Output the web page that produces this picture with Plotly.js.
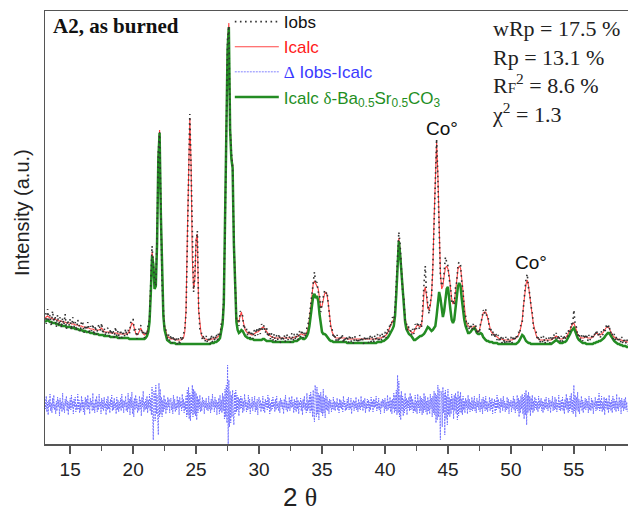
<!DOCTYPE html>
<html>
<head>
<meta charset="utf-8">
<script src="https://cdn.plot.ly/plotly-3.0.1.min.js"></script>
<style>html,body{margin:0;padding:0;background:#fff}#chart{width:628px;height:513px}</style>
</head>
<body>
<div id="chart"></div>
<script>
// 2θ grid of the profile: start and step (degrees)
const twoThetaStart = 13.0;
const twoThetaStep = 0.1;
const diffStep = 0.05;

// Observed intensity (a.u.)
const iObs = [
131,120,135,124,129,118,133,122,128,117,
129,118,127,116,126,119,130,115,124,118,
125,114,127,117,122,113,124,120,112,123,
121,111,119,114,122,110,118,113,120,109,
118,109,117,120,113,121,110,116,108,115,
116,107,115,109,114,106,117,108,113,105,
114,106,113,107,115,108,114,110,121,124,
125,112,115,105,113,117,119,110,114,106,
113,109,120,124,160,198,180,163,158,208,
292,312,238,160,135,114,114,105,110,103,
109,101,108,102,107,100,106,99,108,103,
110,115,131,208,287,330,276,188,152,168,
202,213,137,115,113,104,109,102,108,101,
107,100,109,102,108,103,110,104,112,107,
120,121,148,215,328,405,418,315,292,277,
200,154,125,126,118,133,130,128,115,118,
115,108,114,106,113,105,114,108,116,109,
117,110,120,114,119,111,116,107,112,105,
111,103,110,102,109,104,110,101,108,103,
109,102,110,104,108,101,111,103,110,104,
111,104,113,107,114,106,112,107,116,120,
128,140,154,165,172,160,162,152,150,132,
141,147,153,150,152,137,131,115,115,106,
110,103,109,102,108,104,110,101,107,103,
108,101,109,102,107,100,108,103,106,101,
109,102,107,100,108,103,106,101,109,102,
108,101,109,103,110,102,109,104,111,105,
112,106,115,111,121,118,127,122,135,158,
194,212,200,178,153,145,123,121,113,117,
116,109,115,110,120,115,122,115,120,116,
133,160,178,150,140,130,142,148,178,222,
268,305,266,228,168,158,162,172,187,182,
178,165,158,142,144,139,156,162,180,182,
179,162,153,132,129,117,121,114,120,114,
120,115,119,110,115,111,122,125,134,130,
135,126,126,114,116,108,113,106,111,104,
109,102,108,101,107,100,107,101,106,100,
107,101,108,103,109,105,112,110,121,122,
141,152,165,170,156,150,138,131,116,115,
112,104,108,101,107,102,108,100,106,102,
107,101,108,103,110,105,111,104,109,102,
108,102,109,104,111,107,115,112,121,118,
134,120,117,108,111,104,109,103,110,105,
110,103,109,104,108,105,111,108,114,108,
112,106,113,109,116,113,120,115,119,111,
113,105,110,103,108,102,107,101,107,100,
106,100,105,99];

// Calculated intensity (all phases)
const iCalc = [
126,127,128,127,126,126,125,125,125,124,
124,123,123,123,122,122,122,121,121,121,
121,120,120,120,119,119,119,118,118,118,
117,117,117,116,116,116,115,115,115,114,
114,114,114,114,115,116,114,112,112,112,
112,112,111,111,111,111,111,111,110,110,
110,110,110,110,110,110,111,113,117,121,
120,115,111,109,110,113,116,113,110,109,
110,112,116,126,154,192,184,159,162,204,
289,314,234,164,132,118,111,108,107,106,
105,105,105,105,104,104,104,104,104,105,
106,112,134,205,290,326,280,185,155,165,
205,210,134,118,110,107,106,105,105,104,
104,104,105,105,105,106,106,107,108,110,
116,124,144,219,324,399,421,319,289,280,
204,150,128,122,122,128,132,125,118,114,
112,111,110,110,109,109,110,111,112,112,
113,114,116,117,116,114,112,110,109,108,
107,107,106,106,106,106,106,106,106,106,
106,106,106,106,106,106,106,106,107,107,
107,108,109,110,110,109,109,110,112,116,
125,136,150,160,163,160,158,155,146,136,
138,144,150,152,149,140,128,118,112,109,
107,106,106,106,106,106,106,106,106,106,
105,105,105,105,105,105,105,105,105,105,
105,105,105,105,105,105,105,105,105,105,
105,105,105,105,106,106,106,106,107,107,
108,109,111,114,117,121,123,124,132,154,
188,206,194,175,156,142,126,119,116,114,
113,112,111,112,116,118,119,118,117,118,
130,152,157,148,136,134,138,150,175,225,
270,302,270,224,172,155,158,168,176,178,
175,168,155,145,140,142,152,165,175,178,
176,165,150,135,126,120,118,117,117,117,
117,118,116,113,112,114,119,127,131,132,
132,129,123,117,113,111,110,109,108,107,
106,105,105,105,104,104,104,104,104,104,
104,104,105,105,106,107,109,112,117,124,
138,150,160,164,158,148,140,128,119,113,
109,106,105,104,104,104,104,104,104,104,
104,104,104,105,106,107,108,107,106,105,
105,105,106,106,107,109,111,114,117,120,
121,118,114,110,108,107,106,106,106,107,
107,106,106,106,106,107,108,110,111,110,
109,109,110,111,113,115,117,117,116,113,
110,108,107,106,105,105,104,104,104,103,
103,103,102,102];

// Calculated intensity of the δ-Ba0.5Sr0.5CO3 phase
const iCalcDelta = [
122,123,124,123,122,122,121,121,121,120,
120,119,119,119,118,118,118,117,117,117,
117,116,116,116,115,115,115,114,114,114,
113,113,113,112,112,112,111,111,111,110,
110,110,110,109,109,109,109,108,108,108,
108,108,107,107,107,107,107,107,106,106,
106,106,106,106,106,106,106,105,105,105,
105,105,105,105,105,105,105,105,105,105,
106,108,112,122,150,188,180,155,158,200,
285,311,230,160,128,114,107,104,103,102,
101,101,101,101,100,100,100,100,100,100,
100,100,100,100,100,100,100,100,100,100,
100,100,100,100,100,100,100,100,100,100,
100,100,101,101,101,102,102,103,104,106,
112,120,140,215,320,395,417,315,285,276,
200,145,122,114,111,112,114,113,110,108,
107,106,106,105,105,105,104,104,104,104,
104,104,104,105,105,104,103,103,103,103,
103,102,102,102,102,102,102,102,102,102,
102,102,102,102,102,102,102,102,103,103,
103,104,105,106,106,105,105,106,108,111,
118,128,140,148,150,146,148,143,130,118,
112,110,110,109,107,105,104,103,103,102,
102,102,102,102,102,102,102,102,102,102,
101,101,101,101,101,101,101,101,101,101,
101,101,101,101,101,101,101,101,101,101,
101,101,101,101,102,102,102,102,103,103,
104,105,106,108,110,113,115,118,128,150,
185,203,190,172,152,138,122,115,112,110,
109,108,106,104,104,105,106,107,108,108,
109,110,112,114,117,116,114,113,114,116,
118,128,143,152,146,133,127,133,145,155,
157,148,134,124,121,124,134,148,158,161,
158,145,132,124,118,113,111,111,112,114,
115,116,114,111,110,110,111,110,107,105,
104,103,103,102,102,102,101,101,101,101,
100,100,100,100,100,100,100,100,100,100,
100,100,100,100,100,101,102,104,107,109,
108,105,103,102,101,101,100,100,100,100,
100,100,100,100,100,100,100,100,100,100,
100,100,100,101,102,103,104,103,102,101,
101,101,102,102,103,105,107,110,113,115,
116,113,109,106,104,103,102,101,101,101,
100,100,100,100,100,100,101,101,102,102,
103,103,104,105,106,108,110,111,111,109,
106,104,103,102,101,100,100,99,99,98,
98,98,97,97];

// Difference Iobs - Icalc (0.05° steps)
const iDiff = [
6,-4,9,-7,3,-10,5,-2,11,-6,2,-8,7,-3,10,-5,1,-9,4,-6,
8,-2,5,-11,7,-4,3,-7,12,-5,2,-8,6,-1,9,-6,4,-10,3,-4,
7,-5,10,-3,4,-9,6,-2,8,-7,1,-5,11,-4,5,-8,2,-6,9,-3,
5,-7,3,-10,8,-2,6,-5,10,-4,3,-9,7,-1,4,-6,12,-5,2,-8,
6,-3,9,-7,4,-5,11,-2,3,-9,7,-4,5,-6,8,-3,2,-10,6,-5,
9,-4,3,-8,6,-2,10,-6,4,-5,7,-3,2,-9,8,-5,5,-7,3,-4,
7,-6,11,-3,5,-8,4,-2,9,-6,3,-7,12,-4,6,-10,8,-3,13,-9,
4,-12,7,-5,10,-3,6,-8,2,-6,9,-4,5,-11,8,-2,14,-7,3,-5,
6,-4,9,-8,5,-3,11,-6,7,-10,18,-12,-35,14,8,-16,20,-9,10,-14,
-30,22,-12,16,-9,8,-12,5,-7,10,-4,6,-9,3,-5,8,-2,6,-8,4,
7,-5,3,-9,10,-4,6,-7,2,-5,9,-3,5,-10,8,-2,4,-6,11,-3,
6,-8,3,-5,9,-12,15,-10,18,-14,12,-16,10,-8,20,-12,16,-9,14,-11,
12,-15,9,-8,6,-4,10,-7,3,-6,8,-2,5,-9,4,-3,7,-5,2,-6,
9,-4,3,-8,6,-5,11,-2,4,-7,8,-3,5,-10,3,-4,7,-9,10,-6,
5,-8,12,-6,9,-14,16,-12,20,-18,40,-39,25,-22,14,-18,10,-12,15,-8,
-20,12,-9,15,-7,10,-5,8,-11,6,-4,9,-3,7,-8,4,-6,11,-2,5,
-7,3,-5,10,-4,6,-9,2,-3,8,-6,4,-2,9,-7,3,-5,6,-10,4,
8,-3,5,-7,2,-4,9,-6,3,-8,6,-2,4,-5,10,-3,7,-9,2,-6,
5,-4,8,-2,3,-7,6,-5,9,-3,2,-6,4,-8,7,-2,5,-4,3,-9,
6,-3,10,-5,4,-7,2,-4,8,-6,5,-3,9,-2,3,-8,6,-5,4,-7,
8,-4,5,-9,3,-2,7,-6,4,-10,6,-3,9,-5,2,-8,12,-6,5,-4,
10,-8,13,-6,9,-12,15,-10,-17,20,14,-12,18,-9,12,-15,10,-7,13,-8,
9,-11,16,-8,7,-13,10,-5,8,-6,4,-9,6,-3,5,-7,2,-4,8,-5,
4,-6,3,-2,7,-5,2,-8,6,-3,5,-4,3,-7,9,-2,4,-6,2,-5,
6,-3,8,-5,2,-4,7,-9,3,-2,5,-6,4,-3,8,-5,2,-7,6,-4,
3,-5,9,-2,4,-6,5,-3,7,-8,2,-4,6,-3,5,-7,3,-5,8,-2,
4,-7,6,-3,5,-2,9,-6,3,-4,7,-5,2,-9,4,-3,6,-2,5,-8,
7,-4,3,-6,10,-5,4,-3,8,-7,5,-9,6,-4,12,-8,10,-6,15,-10,
30,-8,24,-12,10,-15,14,-6,9,-11,6,-8,12,-4,7,-10,5,-3,8,-6,
12,-5,9,-4,6,-8,3,-6,10,-7,4,-9,11,-3,5,-8,9,-6,7,-10,
6,-8,12,-5,9,-7,4,-10,8,-6,5,-9,11,-4,7,-12,9,-8,14,-10,
12,-18,10,-15,20,-12,16,-10,-35,14,10,-22,18,-8,12,-30,15,-14,9,-20,
16,-10,8,-12,6,-9,11,-5,7,-14,10,-6,12,-9,8,-15,14,-11,9,-7,
13,-8,6,-10,9,-5,4,-8,7,-3,5,-9,10,-4,6,-7,3,-5,8,-6,
5,-4,9,-6,3,-8,7,-2,4,-5,11,-7,3,-4,6,-9,8,-3,5,-6,
9,-5,4,-7,2,-3,8,-6,5,-4,7,-9,3,-2,6,-8,4,-5,10,-3,
6,-4,3,-8,7,-2,5,-6,9,-3,4,-7,2,-5,8,-4,6,-9,3,-2,
5,-7,4,-3,9,-5,6,-8,3,-4,10,-6,7,-12,5,-8,9,-4,11,-9,
8,-14,12,-10,15,-20,10,-8,13,-6,9,-11,7,-5,10,-8,4,-6,8,-3,
6,-5,3,-7,9,-4,5,-2,7,-6,4,-8,3,-5,6,-3,8,-4,2,-6,
7,-3,5,-8,4,-2,9,-6,3,-5,8,-4,6,-7,2,-3,10,-5,4,-6,
5,-4,8,-6,3,-9,6,-3,11,-5,7,-8,4,-6,9,-4,12,-7,5,-9,
20,-6,10,-12,8,-5,13,-7,6,-9,4,-3,9,-6,5,-8,3,-4,7,-5,
6,-3,4,-8,9,-5,2,-6,7,-4,5,-9,3,-2,8,-6,4,-5,6,-3,
12,-6,5,-4,9,-7,3,-5,8,-10,6,-3,7,-5,4,-8,10,-4,3,-6,
5,-8,9,-3,6,-5,4,-7,11,-4,3,-6,8,-2,5,-9,7,-3,4,-6,
6,-4,8,-5,3,-7];

const diffOffset = 39;

const xTicks = [15, 20, 25, 30, 35, 40, 45, 50, 55];
const xTickText = ['15', '20', '25', '30', '35', '40', '45', '50', '55'];

const SANS = 'Liberation Sans, Arial, sans-serif';
const SERIF = 'Liberation Serif, Times New Roman, serif';

const traces = [
  {
    type: 'scatter', mode: 'lines', name: "<span style='color:#3a3aff'><span style='font-family:Liberation Serif'>Δ</span> Iobs-Icalc</span>",
    x0: twoThetaStart, dx: diffStep, y: iDiff.map(d => d + diffOffset),
    line: {color: 'rgba(95,95,255,0.85)', width: 0.9, dash: '2px,1px'},
    legendrank: 3, legendgroup: 'c'
  },
  {
    type: 'scatter', mode: 'lines', name: "<span style='color:#ff1a1a'>Icalc</span>",
    x0: twoThetaStart, dx: twoThetaStep, y: iCalc,
    line: {color: 'rgb(255,70,70)', width: 1.1},
    legendrank: 2, legendgroup: 'b'
  },
  {
    type: 'scatter', mode: 'lines', name: "<span style='color:#1f8f1f'>Icalc <span style='font-family:Liberation Serif'>δ</span>-Ba<sub>0.5</sub>Sr<sub>0.5</sub>CO<sub>3</sub></span>",
    x0: twoThetaStart, dx: twoThetaStep, y: iCalcDelta,
    line: {color: 'rgb(35,140,35)', width: 2.5},
    legendrank: 4, legendgroup: 'd'
  },
  {
    type: 'scatter', mode: 'lines', name: 'Iobs',
    x0: twoThetaStart, dx: twoThetaStep, y: iObs,
    line: {color: '#333', width: 1.6, dash: '1.6px,3.5px'},
    legendrank: 1, legendgroup: 'a'
  }
];

const layout = {
  width: 628, height: 513,
  margin: {l: 45, r: 0, t: 11, b: 69, pad: 0},
  paper_bgcolor: '#fff', plot_bgcolor: '#fff',
  showlegend: true,
  legend: {
    x: 0.317, y: 1.016, xanchor: 'left', yanchor: 'top',
    bgcolor: 'rgba(0,0,0,0)', font: {family: SANS, size: 17, color: '#111'},
    traceorder: 'grouped', tracegroupgap: 0, itemwidth: 44
  },
  xaxis: {
    range: [13.0, 59.3], showgrid: false, zeroline: false,
    showline: true, mirror: true, linecolor: '#555', linewidth: 1.5,
    tickmode: 'array', tickvals: xTicks, ticktext: xTickText,
    ticks: 'outside', ticklen: 8, tickwidth: 1.5, tickcolor: '#555',
    tickfont: {family: SANS, size: 19, color: '#222'},
    minor: {dtick: 2.5, tick0: 15, ticks: 'outside', ticklen: 5, tickwidth: 1.5, tickcolor: '#555', showgrid: false}
  },
  yaxis: {
    range: [0, 433], showgrid: false, zeroline: false,
    showline: true, linecolor: '#555', linewidth: 1.5,
    showticklabels: false, ticks: ''
  },
  annotations: [
    {xref: 'paper', yref: 'paper', x: 0.0103, y: 0.9654, xanchor: 'left', yanchor: 'middle',
     text: '<b>A2, as burned</b>', showarrow: false, font: {family: SERIF, size: 21, color: '#111'}},
    {xref: 'paper', yref: 'paper', x: 0.7633, y: 0.994, xanchor: 'left', yanchor: 'top', align: 'left',
     text: "wRp = 17.5 %<br>Rp = 13.1 %<br>R<span style='font-size:15px'>F</span><sup>2</sup> = 8.6 %<br>χ<sup>2</sup> = 1.3",
     showarrow: false, font: {family: SERIF, size: 22, color: '#222'}},
    {xref: 'x', yref: 'y', x: 44.5, y: 316, xanchor: 'center', yanchor: 'middle', text: 'Co°', showarrow: false,
     font: {family: SANS, size: 19, color: '#111'}},
    {xref: 'x', yref: 'y', x: 51.6, y: 182, xanchor: 'center', yanchor: 'middle', text: 'Co°', showarrow: false,
     font: {family: SANS, size: 19, color: '#111'}},
    {xref: 'paper', yref: 'paper', x: -0.0395, y: 0.5358, xanchor: 'center', yanchor: 'middle', textangle: -90,
     text: 'Intensity (a.u.)', showarrow: false, font: {family: SANS, size: 20, color: '#222'}},
    {xref: 'paper', yref: 'paper', x: 0.4374, y: -0.1224, xanchor: 'center', yanchor: 'middle',
     text: "2 <span style='font-family:Liberation Serif'>θ</span>",
     showarrow: false, font: {family: SANS, size: 26, color: '#222'}}
  ]
};

Plotly.newPlot('chart', traces, layout, {staticPlot: true, displayModeBar: false});
</script>
</body>
</html>
